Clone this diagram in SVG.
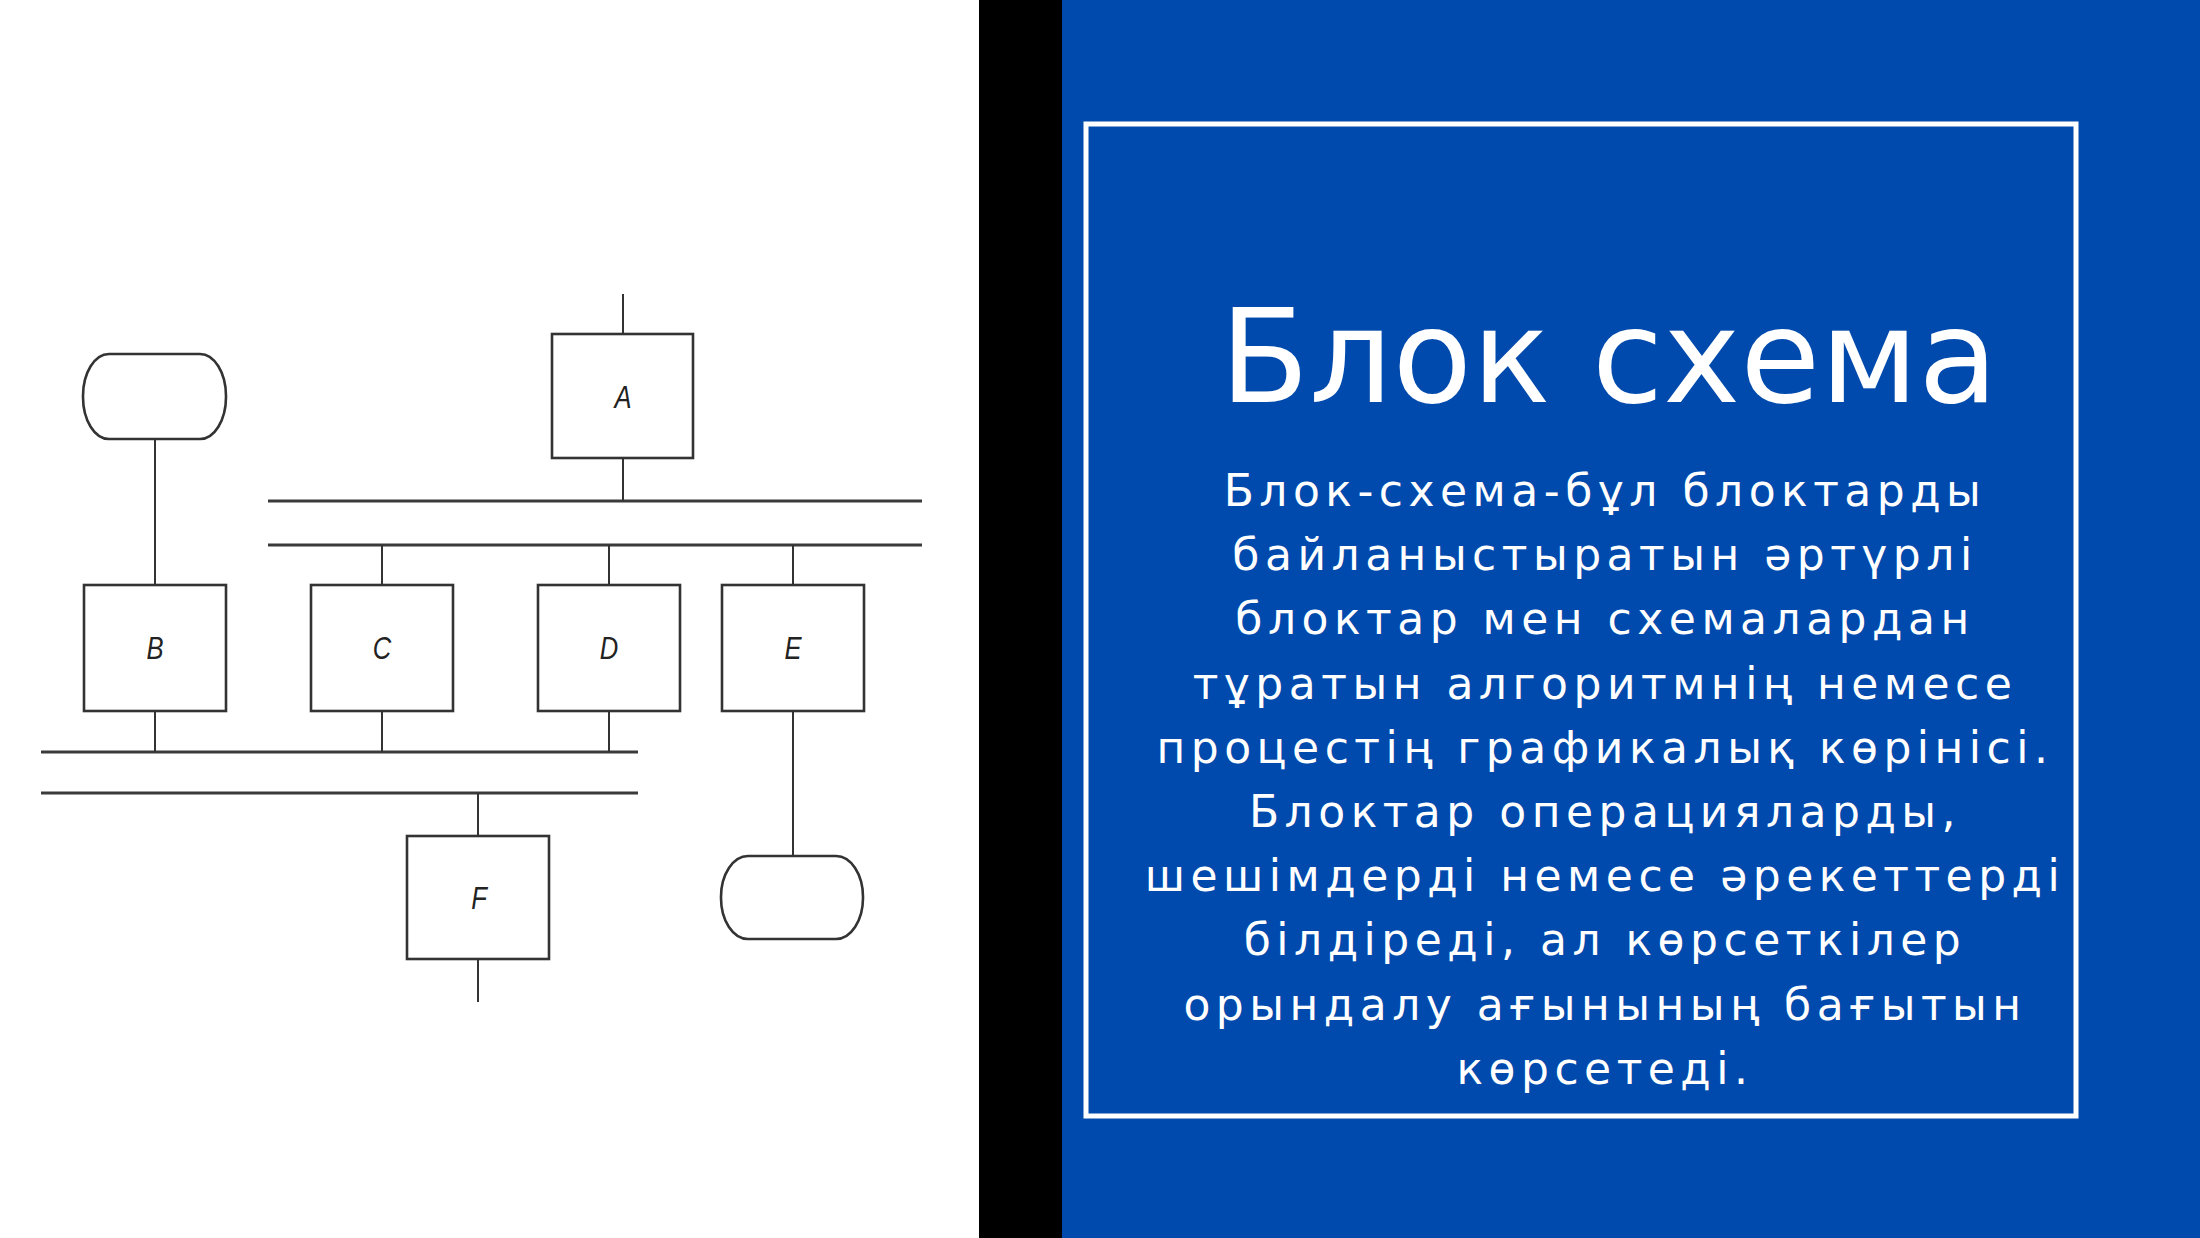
<svg xmlns="http://www.w3.org/2000/svg" width="2200" height="1238" viewBox="0 0 2200 1238">
  <style>
    .box { fill: #ffffff; stroke: #333333; stroke-width: 2.6; }
    .bus { stroke: #3a3a3a; stroke-width: 3.2; fill: none; }
    .wire { stroke: #333333; stroke-width: 2; fill: none; }
    .lbl { font-family: "Liberation Sans", Arial, sans-serif; font-style: italic; font-size: 32px; fill: #222222; text-anchor: middle; }
    .title { font-family: "DejaVu Sans", sans-serif; font-size: 130px; fill: #ffffff; text-anchor: middle; }
    .body { font-family: "DejaVu Sans", sans-serif; font-size: 44px; letter-spacing: 5.5px; fill: #ffffff; text-anchor: middle; }
  </style>
  <rect x="0" y="0" width="979" height="1238" fill="#ffffff"/>
  <rect x="979" y="0" width="83" height="1238" fill="#000000"/>
  <rect x="1062" y="0" width="1138" height="1238" fill="#004AAD"/>

  <g id="connectors">
    <line class="bus" x1="268" y1="501" x2="922" y2="501"/>
    <line class="bus" x1="268" y1="545" x2="922" y2="545"/>
    <line class="bus" x1="41" y1="752" x2="638" y2="752"/>
    <line class="bus" x1="41" y1="793" x2="638" y2="793"/>
    <line class="wire" x1="623" y1="294" x2="623" y2="334"/>
    <line class="wire" x1="623" y1="458" x2="623" y2="501"/>
    <line class="wire" x1="155" y1="439" x2="155" y2="585"/>
    <line class="wire" x1="382" y1="545" x2="382" y2="585"/>
    <line class="wire" x1="609" y1="545" x2="609" y2="585"/>
    <line class="wire" x1="793" y1="545" x2="793" y2="585"/>
    <line class="wire" x1="155" y1="711" x2="155" y2="752"/>
    <line class="wire" x1="382" y1="711" x2="382" y2="752"/>
    <line class="wire" x1="609" y1="711" x2="609" y2="752"/>
    <line class="wire" x1="793" y1="711" x2="793" y2="856"/>
    <line class="wire" x1="478" y1="793" x2="478" y2="836"/>
    <line class="wire" x1="478" y1="959" x2="478" y2="1002"/>
  </g>

  <g id="node-start">
    <rect class="box" x="83" y="354" width="143" height="85" rx="26" ry="42"/>
  </g>
  <g id="node-A">
    <rect class="box" x="552" y="334" width="141" height="124"/>
    <text class="lbl" transform="translate(623,408) scale(0.8,1)">A</text>
  </g>
  <g id="node-B">
    <rect class="box" x="84" y="585" width="142" height="126"/>
    <text class="lbl" transform="translate(155,659) scale(0.8,1)">B</text>
  </g>
  <g id="node-C">
    <rect class="box" x="311" y="585" width="142" height="126"/>
    <text class="lbl" transform="translate(382,659) scale(0.8,1)">C</text>
  </g>
  <g id="node-D">
    <rect class="box" x="538" y="585" width="142" height="126"/>
    <text class="lbl" transform="translate(609,659) scale(0.8,1)">D</text>
  </g>
  <g id="node-E">
    <rect class="box" x="722" y="585" width="142" height="126"/>
    <text class="lbl" transform="translate(793,659) scale(0.8,1)">E</text>
  </g>
  <g id="node-F">
    <rect class="box" x="407" y="836" width="142" height="123"/>
    <text class="lbl" transform="translate(479,909) scale(0.8,1)">F</text>
  </g>
  <g id="node-end">
    <rect class="box" x="721" y="856" width="142" height="83" rx="27" ry="41"/>
  </g>

  <g id="text-panel">
    <rect x="1086" y="124" width="990" height="992" fill="none" stroke="#ffffff" stroke-width="5"/>
    <text class="title" x="1609" y="402">Блок схема</text>
    <text class="body" x="1605" y="506">Блок-схема-бұл блоктарды</text>
    <text class="body" x="1605" y="570.2">байланыстыратын әртүрлі</text>
    <text class="body" x="1605" y="634.4">блоктар мен схемалардан</text>
    <text class="body" x="1605" y="698.6">тұратын алгоритмнің немесе</text>
    <text class="body" x="1605" y="762.8">процестің графикалық көрінісі.</text>
    <text class="body" x="1605" y="827">Блоктар операцияларды,</text>
    <text class="body" x="1605" y="891.2">шешімдерді немесе әрекеттерді</text>
    <text class="body" x="1605" y="955.4">білдіреді, ал көрсеткілер</text>
    <text class="body" x="1605" y="1019.6">орындалу ағынының бағытын</text>
    <text class="body" x="1605" y="1083.8">көрсетеді.</text>
  </g>
</svg>
